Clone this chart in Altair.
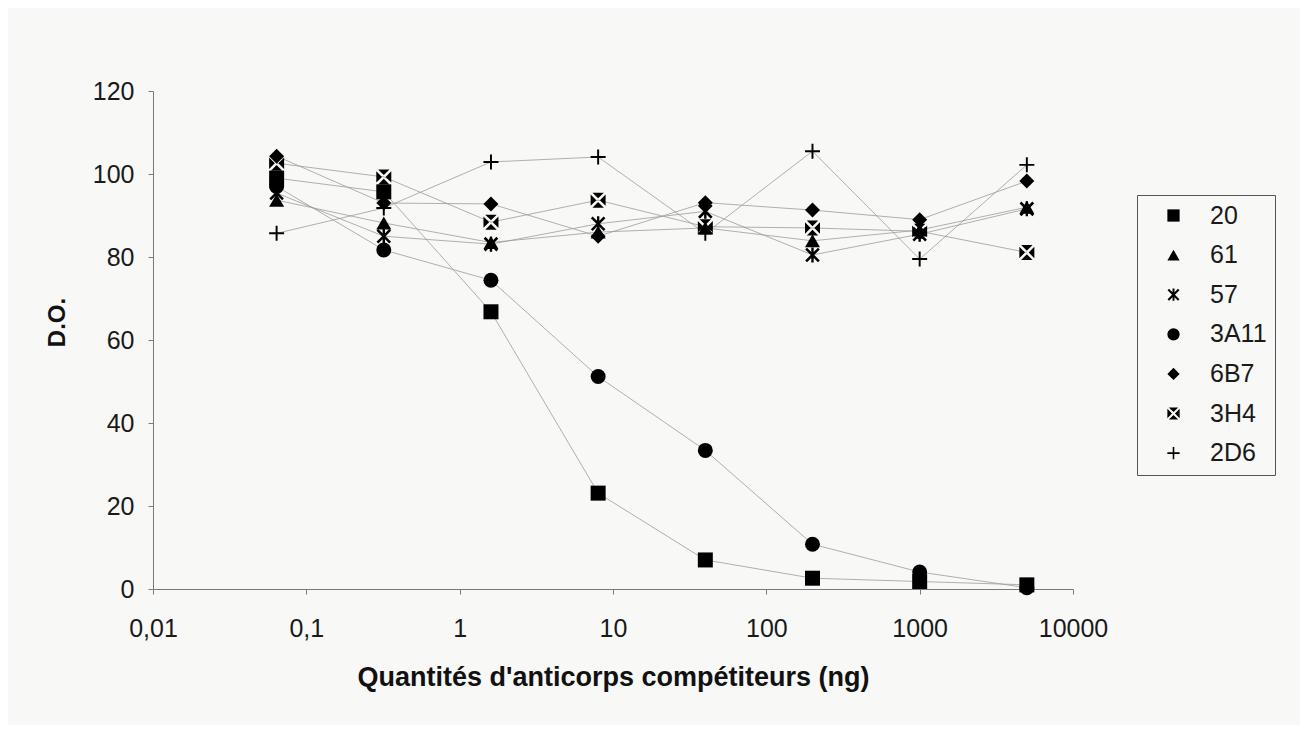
import math
import altair as alt
import pandas as pd

# ---- data ----
series = ["20", "61", "57", "3A11", "6B7", "3H4", "2D6"]
quantities = [0.064, 0.32, 1.6, 8, 40, 200, 1000, 5000]
do_20 = [99.0, 95.7, 66.8, 23.1, 7.0, 2.6, 1.8, 1.0]
do_61 = [93.7, 88.2, 83.5, 86.0, 87.0, 83.9, 86.5, 92.0]
do_57 = [95.4, 85.0, 83.1, 88.0, 91.0, 80.5, 85.5, 91.6]
do_3A11 = [97.0, 81.7, 74.4, 51.2, 33.4, 10.8, 4.1, 0.3]
do_6B7 = [104.3, 93.0, 92.8, 85.0, 93.1, 91.3, 89.0, 98.3]
do_3H4 = [102.6, 99.3, 88.4, 93.7, 87.3, 87.0, 86.2, 81.1]
do_2D6 = [85.7, 91.8, 102.9, 104.1, 85.7, 105.5, 79.5, 102.2]
x_ticks = [0.01, 0.1, 1, 10, 100, 1000, 10000]
y_ticks = [0, 20, 40, 60, 80, 100, 120]

values = [do_20, do_61, do_57, do_3A11, do_6B7, do_3H4, do_2D6]
rows = []
for name, vals in zip(series, values):
    for q, v in zip(quantities, vals):
        rows.append({"serie": name, "q": q, "do": v})
df = pd.DataFrame(rows)


# ---- marker shapes (unit box [-1, 1]) ----
def bar(ax, ay, bx, by, h):
    dx, dy = bx - ax, by - ay
    L = math.hypot(dx, dy)
    nx, ny = -dy / L * h, dx / L * h
    pts = [(ax + nx, ay + ny), (bx + nx, by + ny), (bx - nx, by - ny), (ax - nx, ay - ny)]
    return "M" + "L".join(f"{px:.3f},{py:.3f}" for px, py in pts) + "Z"


star = bar(-0.85, -0.85, 0.85, 0.85, 0.17) + bar(0.85, -0.85, -0.85, 0.85, 0.17) + bar(0, -1, 0, 1, 0.16)
plus = bar(-1, 0, 1, 0, 0.13) + bar(0, -1, 0, 1, 0.13)
g = 0.24
xbox = (f"M{-1+g},-1L{1-g},-1L0,{-g}Z"
        f"M1,{-1+g}L1,{1-g}L{g},0Z"
        f"M{1-g},1L{-1+g},1L0,{g}Z"
        f"M-1,{1-g}L-1,{-1+g}L{-g},0Z")
shapes = ["square", "triangle-up", star, "circle", "diamond", xbox, plus]

FONT = "Liberation Sans"

x_enc = alt.X(
    "q:Q",
    scale=alt.Scale(type="log", domain=[0.01, 10000]),
    axis=alt.Axis(
        values=x_ticks,
        labelExpr="replace('' + datum.value, '.', ',')",
        labelFlush=False,
        labelOverlap=False,
        title="Quantités d'anticorps compétiteurs (ng)",
        titleFontSize=27,
        titleX=460,
        titleY=96,
        titleBaseline="alphabetic",
        titleAlign="center",
        labelPadding=22,
        tickSize=5,
        grid=False,
    ),
)
y_enc = alt.Y(
    "do:Q",
    scale=alt.Scale(domain=[0, 120], nice=False),
    axis=alt.Axis(
        values=y_ticks,
        title="D.O.",
        titleFontSize=24,
        titleX=-96,
        titleY=231,
        titleAngle=-90,
        titleBaseline="middle",
        titleAlign="center",
        labelPadding=14,
        tickSize=5,
        grid=False,
    ),
)

lines = alt.Chart(df).mark_line(color="#9c9c9c", strokeWidth=0.8).encode(
    x=x_enc, y=y_enc, detail="serie:N"
)

points = alt.Chart(df).mark_point(filled=True, color="black", opacity=1, size=225).encode(
    x=x_enc,
    y=y_enc,
    shape=alt.Shape(
        "serie:N",
        sort=series,
        scale=alt.Scale(domain=series, range=shapes),
        legend=alt.Legend(
            title=None,
            orient="none",
            legendX=984,
            legendY=104,
            padding=8,
            strokeColor="#555555",
            labelFont=FONT,
            labelFontSize=25,
            labelColor="#1a1a1a",
            symbolSize=150,
            rowPadding=13.6,
            symbolOffset=16,
            labelOffset=24,
            labelLimit=300,
        ),
    ),
)

chart = (
    alt.layer(lines, points)
    .properties(
        width=920,
        height=498,
        autosize=alt.AutoSizeParams(type="none"),
        padding={"left": 145, "top": 83, "right": 227, "bottom": 136},
        background="#f8f8f6",
    )
    .configure_view(strokeWidth=0)
    .configure_axis(
        domainColor="#7a7a7a",
        tickColor="#7a7a7a",
        labelFont=FONT,
        labelFontSize=25,
        labelColor="#1a1a1a",
        titleFont=FONT,
        titleFontWeight="bold",
        titleColor="#111111",
    )
)

chart.save("out.html", embed_options={"renderer": "svg", "actions": False})
